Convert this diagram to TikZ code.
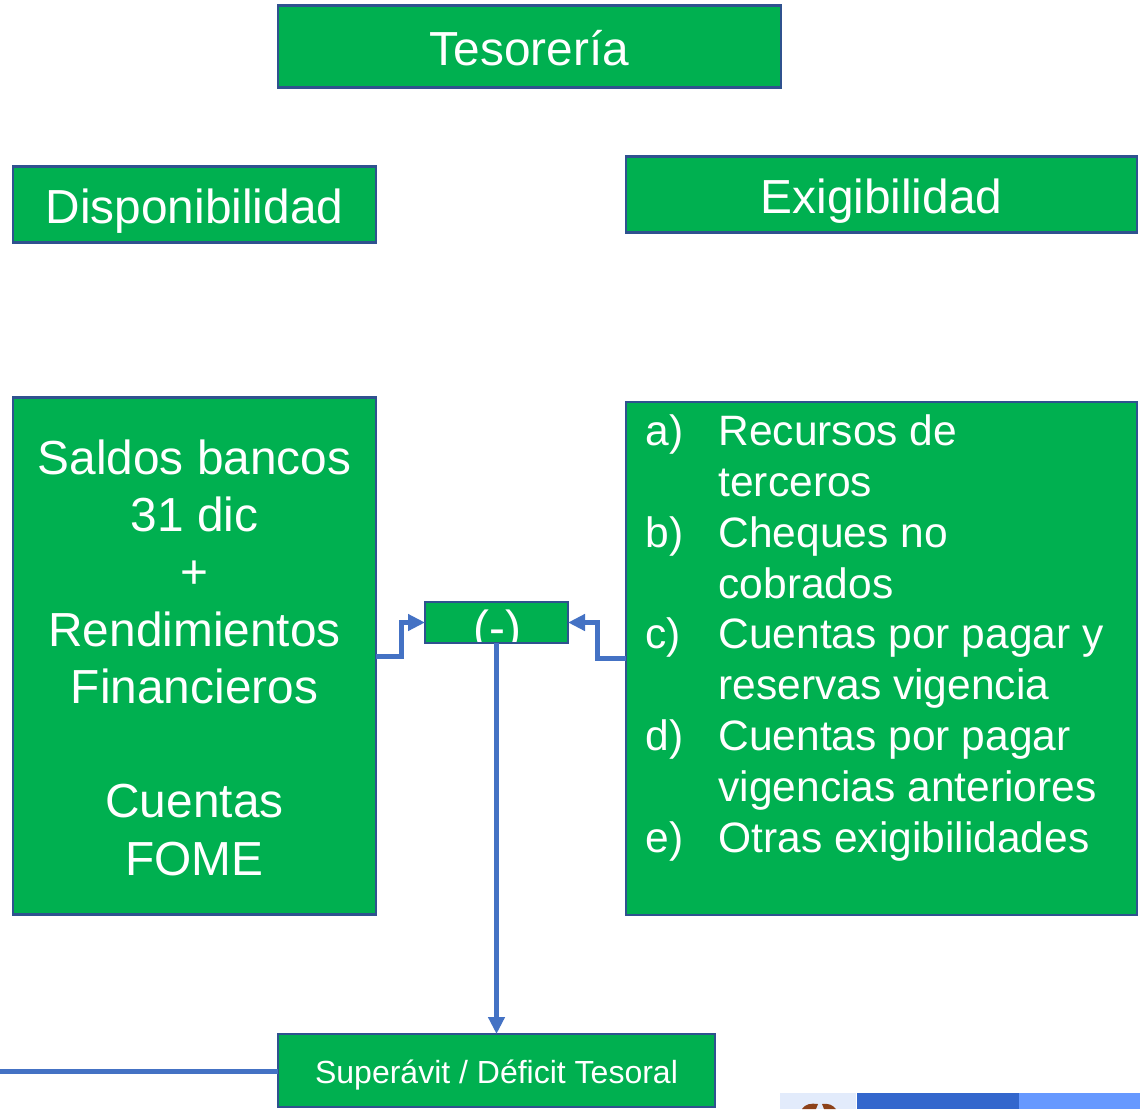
\documentclass[tikz,border=0pt]{standalone}
\usepackage{fontspec}
\setmainfont{Liberation Sans}
\usetikzlibrary{arrows.meta}
\definecolor{boxgreen}{HTML}{00B050}
\definecolor{boxedge}{HTML}{2F528F}
\definecolor{conn}{HTML}{4472C4}
\definecolor{logopale}{HTML}{E2EBFB}
\definecolor{logoblue}{HTML}{3367CD}
\definecolor{logosky}{HTML}{6699FF}
\definecolor{logobrown}{HTML}{8C4119}
\tikzset{
  box/.style={draw=boxedge,line width=2.5pt,fill=boxgreen,text=white,inner sep=0pt,outer sep=0pt,anchor=north west,align=center},
  big/.style={font=\fontsize{47.8}{57.3}\selectfont},
  listtxt/.style={font=\fontsize{42.5}{50.9}\selectfont},
  link/.style={draw=conn,line width=5pt},
  tip/.style={-{Triangle[length=17pt,width=16pt]}}
}
\newcommand{\itm}[1]{\makebox[73pt][l]{#1}}
\newcommand{\base}[2]{\raisebox{#1}[0pt][0pt]{#2}}
\begin{document}
\begin{tikzpicture}[x=1pt,y=-1pt]
\path[use as bounding box,fill=white] (0,0) rectangle (1140,1109);
\node[box,big,minimum width=503pt,minimum height=82pt] (tes) at (278,5.5) {\base{-18.5pt}{Tesorería}};
\node[box,big,minimum width=363pt,minimum height=76pt] (disp) at (13,166.5) {\base{-19pt}{Disponibilidad}};
\node[box,big,minimum width=511pt,minimum height=76pt] (exig) at (626,156.5) {\base{-19pt}{Exigibilidad}};
\node[box,minimum width=363pt,minimum height=517pt] (sal) at (13,397.5) {};
\node[big,text=white,align=center,anchor=north] (saltxt) at (194.5,436) {Saldos bancos\\31 dic\\+\\Rendimientos\\Financieros\\\mbox{}\\Cuentas\\FOME};
\node[box,minimum width=511pt,minimum height=513pt] (rec) at (626,402) {};
\node[listtxt,text=white,align=left,anchor=north west] (rectxt) at (642,411) {\itm{a)}Recursos de\\\itm{}terceros\\\itm{b)}Cheques no\\\itm{}cobrados\\\itm{c)}Cuentas por pagar y\\\itm{}reservas vigencia\\\itm{d)}Cuentas por pagar\\\itm{}vigencias anteriores\\\itm{e)}Otras exigibilidades};
\node[box,draw=none,minimum width=143pt,minimum height=41pt] (menos) at (425,602) {};
\begin{scope}
\clip (menos.south west) rectangle (menos.north east);
\node[big,text=white,inner sep=0pt] (mintxt) at ([xshift=1pt,yshift=-10pt]menos.center) {(-)};
\end{scope}
\draw[draw=boxedge,line width=2.5pt] (menos.south west) rectangle (menos.north east);
\node[box,font=\fontsize{32}{36}\selectfont,minimum width=437pt,minimum height=73pt] (sup) at (278,1034) {\base{-13pt}{Superávit / Déficit Tesoral}};
\coordinate (free) at (0,1071);
\draw[link,tip] (sal.east) -- ++(25,0) |- (menos.west);
\draw[link,tip] (rec.west) -- ++(-29,0) |- (menos.east);
\draw[link,tip] (menos.south) -- (sup.north);
\draw[link] (sup.west |- free) -- (free);
% logo strip at the lower edge
\fill[logopale] (780,1093) rectangle (856,1109);
\fill[logoblue] (857,1093) rectangle (1019,1109);
\fill[logosky] (1019,1093) rectangle (1140,1109);
\fill[logobrown] (802,1109) .. controls (805,1104) and (811,1103) .. (818,1104) -- (816,1109) -- cycle;
\fill[logobrown] (822,1104) .. controls (828,1103) and (833,1105) .. (836,1109) -- (824,1109) -- cycle;
\end{tikzpicture}
\end{document}
